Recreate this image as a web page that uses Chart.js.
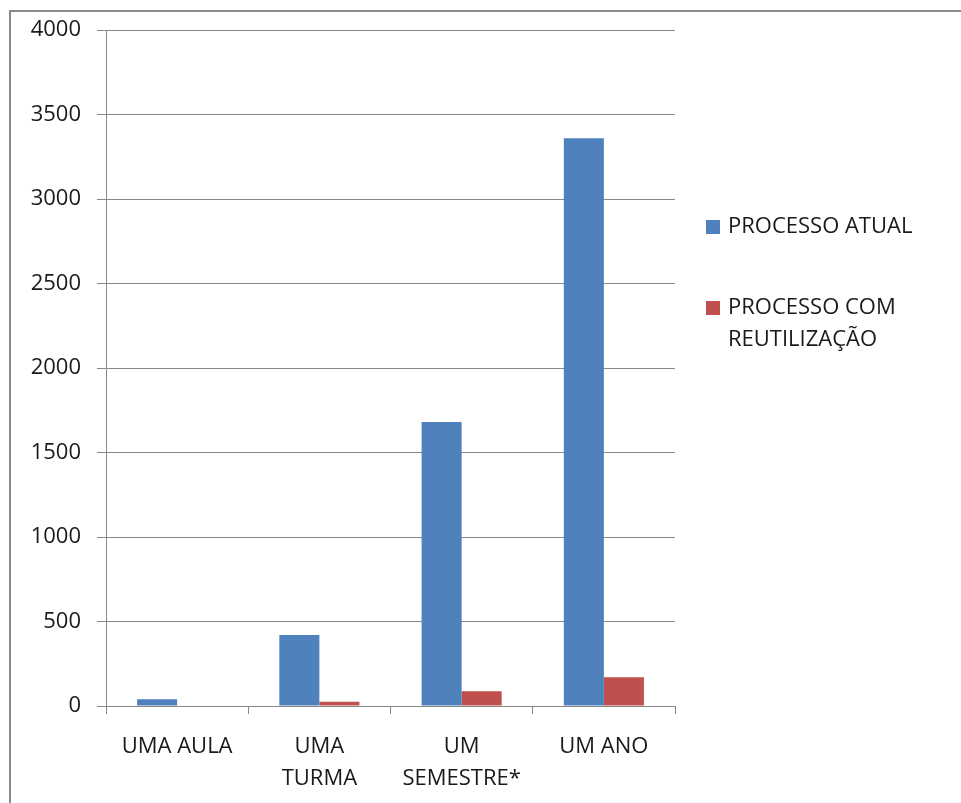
<!DOCTYPE html>
<html>
<head>
  <meta charset="utf-8">
  <style>
    body {
        margin: 0;
        background: #fff;
        font-family: "Open Sans", sans-serif;
    }

    #wrap {
        position: relative;
        width: 961px;
        height: 803px;
        overflow: hidden;
    }

    #frame {
        position: absolute;
        left: 9px;
        top: 10px;
        width: 1000px;
        height: 900px;
        border-left: 2px solid #8a8a8a;
        border-top: 2px solid #8a8a8a;
        pointer-events: none;
    }
  </style>
</head>
<body>
  <div id="wrap">
    <canvas id="chart" width="961" height="803"></canvas>
    <div id="frame"></div>
  </div>

  <script src="https://cdn.jsdelivr.net/npm/chart.js"></script>
  <script>
const categories = [['UMA AULA'], ['UMA', 'TURMA'], ['UM', 'SEMESTRE*'], ['UM ANO']];
const seriesNames = ['PROCESSO ATUAL', 'PROCESSO COM REUTILIZAÇÃO'];
const processoAtual = [40, 420, 1680, 3360];
const processoReutilizacao = [0, 25, 88, 170];
const seriesColors = ['#4F81BD', '#C0504D'];

const textColor = '#1a1a1a';
const gridColor = '#888888';
const fontFamily = '"Open Sans", sans-serif';

// legend drawn by hand so the long label can wrap like in Excel
const sideLegend = {
  id: 'sideLegend',
  afterDraw(chart) {
    const ctx = chart.ctx;
    const boxX = 706, textX = 728, maxW = 961 - textX - 8;
    const itemTops = [220, 301];
    const lineH = 32;
    ctx.save();
    ctx.font = '22px ' + fontFamily;
    ctx.textBaseline = 'middle';
    ctx.textAlign = 'left';
    chart.data.datasets.forEach((ds, i) => {
      const words = ds.label.split(' ');
      const lines = [];
      let cur = '';
      words.forEach(w => {
        const test = cur ? cur + ' ' + w : w;
        if (cur && ctx.measureText(test).width > maxW) {
          lines.push(cur);
          cur = w;
        } else {
          cur = test;
        }
      });
      if (cur) lines.push(cur);
      const top = itemTops[i];
      ctx.fillStyle = ds.backgroundColor;
      ctx.fillRect(boxX, top, 14, 14);
      ctx.fillStyle = textColor;
      lines.forEach((ln, j) => {
        ctx.fillText(ln, textX, top + 7 + j * lineH);
      });
    });
    ctx.restore();
  }
};

const ctx = document.getElementById('chart').getContext('2d');
const chart = new Chart(ctx, {
  type: 'bar',
  data: {
    labels: categories,
    datasets: [
      {
        label: seriesNames[0],
        data: processoAtual,
        backgroundColor: seriesColors[0],
        borderWidth: 0,
        categoryPercentage: 0.563,
        barPercentage: 1.0
      },
      {
        label: seriesNames[1],
        data: processoReutilizacao,
        backgroundColor: seriesColors[1],
        borderWidth: 0,
        categoryPercentage: 0.563,
        barPercentage: 1.0
      }
    ]
  },
  options: {
    responsive: false,
    animation: false,
    layout: {
      padding: { left: 0, top: 30, right: 286, bottom: 0 }
    },
    scales: {
      x: {
        grid: {
          offset: true,
          drawOnChartArea: false,
          drawTicks: true,
          tickLength: 8,
          color: gridColor
        },
        border: { color: gridColor, width: 1 },
        ticks: {
          color: textColor,
          font: { family: fontFamily, size: 22, lineHeight: 1.45 },
          padding: 17,
          maxRotation: 0,
          autoSkip: false
        },
        afterFit(scale) { scale.height = 97; }
      },
      y: {
        min: 0,
        max: 4000,
        grid: {
          color: gridColor,
          tickLength: 9
        },
        border: { color: gridColor, width: 1 },
        ticks: {
          stepSize: 500,
          color: textColor,
          font: { family: fontFamily, size: 22 },
          padding: 16,
          callback: v => String(v)
        },
        afterFit(scale) { scale.width = 106; }
      }
    },
    plugins: {
      legend: { display: false },
      tooltip: { enabled: false }
    }
  },
  plugins: [sideLegend]
});
  </script>
</body>
</html>
